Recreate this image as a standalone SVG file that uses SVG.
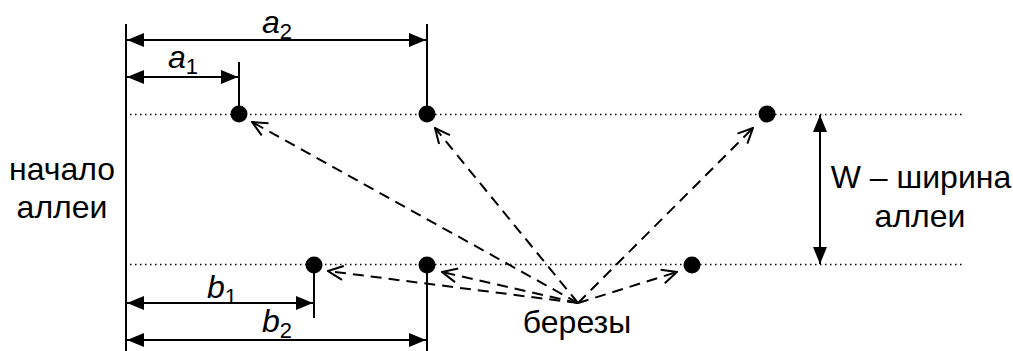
<svg xmlns="http://www.w3.org/2000/svg" width="1013" height="351" viewBox="0 0 1013 351">
<style>
text{font-family:"Liberation Sans",Arial,sans-serif;font-size:32px;fill:#000}
.it{font-style:italic}
.sub{font-size:22px;font-style:normal}
.solid{stroke:#000;stroke-width:2;fill:none}
.dot{stroke:#000;stroke-width:1.4;stroke-dasharray:1.5 3.5;fill:none}
.dash{stroke:#000;stroke-width:2;stroke-dasharray:11 7;fill:none;marker-end:url(#open)}
.dim{stroke:#000;stroke-width:2;fill:none;marker-start:url(#fillS);marker-end:url(#fillE)}
</style>
<defs>
<marker id="fillE" markerUnits="userSpaceOnUse" viewBox="0 0 17 14" refX="17" refY="7" markerWidth="17" markerHeight="14" orient="auto"><path d="M0,0 L17,7 L0,14 z" fill="#000"/></marker>
<marker id="fillS" markerUnits="userSpaceOnUse" viewBox="0 0 17 14" refX="0" refY="7" markerWidth="17" markerHeight="14" orient="auto"><path d="M17,0 L0,7 L17,14 z" fill="#000"/></marker>
<marker id="open" markerUnits="userSpaceOnUse" viewBox="0 0 18 18" refX="17" refY="9" markerWidth="18" markerHeight="18" orient="auto"><path d="M2,2 L17,9 L2,16" fill="none" stroke="#000" stroke-width="2"/></marker>
</defs>
<g id="guides">
<line class="solid" x1="126" y1="24" x2="126" y2="351"/>
<line class="dot" x1="130" y1="114.5" x2="965" y2="114.5"/>
<line class="dot" x1="130" y1="264.5" x2="965" y2="264.5"/>
<line class="solid" x1="239" y1="62" x2="239" y2="114"/>
<line class="solid" x1="427" y1="24" x2="427" y2="114"/>
<line class="solid" x1="314" y1="264" x2="314" y2="318"/>
<line class="solid" x1="427" y1="264" x2="427" y2="351"/>
</g>
<g id="connectors">
<line class="dim" x1="127" y1="40" x2="426" y2="40"/>
<line class="dim" x1="127" y1="77" x2="238" y2="77"/>
<line class="dim" x1="127" y1="303" x2="313" y2="303"/>
<line class="dim" x1="127" y1="340" x2="426" y2="340"/>
<line class="dim" x1="820" y1="115" x2="820" y2="264"/>
<line class="dash" x1="578" y1="303" x2="252" y2="122"/>
<line class="dash" x1="578" y1="303" x2="435" y2="128"/>
<line class="dash" x1="578" y1="303" x2="753" y2="128"/>
<line class="dash" x1="578" y1="303" x2="328" y2="271"/>
<line class="dash" x1="578" y1="303" x2="442" y2="272"/>
<line class="dash" x1="578" y1="303" x2="677" y2="272"/>
</g>
<g id="trees">
<circle id="t1" cx="239" cy="114" r="8.5"/>
<circle id="t2" cx="427" cy="114" r="8.5"/>
<circle id="t3" cx="767" cy="114" r="8.5"/>
<circle id="t4" cx="314" cy="265" r="8.5"/>
<circle id="t5" cx="427" cy="265" r="8.5"/>
<circle id="t6" cx="692" cy="265" r="8.5"/>
</g>
<g id="labels">
<text x="262" y="33" class="it">a<tspan class="sub" dy="6">2</tspan></text>
<text x="168" y="68" class="it">a<tspan class="sub" dy="6">1</tspan></text>
<text x="207" y="298" class="it">b<tspan class="sub" dy="6">1</tspan></text>
<text x="262" y="332" class="it">b<tspan class="sub" dy="6">2</tspan></text>
<text x="62" y="180" text-anchor="middle">начало</text>
<text x="62" y="218" text-anchor="middle">аллеи</text>
<text x="921" y="188" text-anchor="middle">W – ширина</text>
<text x="920" y="227" text-anchor="middle">аллеи</text>
<text x="577" y="333" text-anchor="middle">березы</text>
</g>
</svg>
